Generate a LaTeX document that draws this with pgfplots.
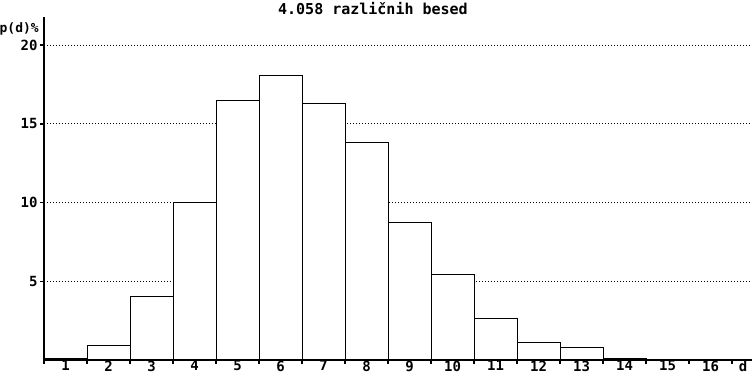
\documentclass[border=0pt]{standalone}
\usepackage{pgfplots}
\pgfplotsset{compat=1.18}
\usepackage{fontspec}
\setmonofont{DejaVu Sans Mono}
\newcommand{\pf}{\ttfamily\bfseries\fontsize{15}{15}\selectfont}
\newcommand{\pft}{\ttfamily\bfseries\fontsize{14}{14}\selectfont}
\newcommand{\pfs}{\ttfamily\bfseries\fontsize{13}{13}\selectfont}
\begin{document}
\begin{tikzpicture}
\begin{axis}[
  name=ax,
  scale only axis,
  width=708pt, height=343pt,
  xmin=0.5, xmax=16.965,
  ymin=0, ymax=21.78,
  clip=false,
  axis x line=bottom, axis y line=left,
  axis line style={-, line width=2pt},
  xtick={1,2,3,4,5,6,7,8,9,10,11,12,13,14,15,16,16.76},
  xticklabels={1,2,3,4,5,6,7,8,9,10,11,12,13,14,15,16,d},
  minor xtick={0.5,1.5,...,16.5},
  major x tick style={draw=none},
  minor x tick style={line width=1.5pt, black},
  minor tick length=4pt,
  ytick={5,10,15,20},
  major tick length=4pt,
  tick align=outside,
  tick style={line width=1.5pt, black},
  ymajorgrids=true,
  major grid style={line width=1pt, dash pattern=on 1pt off 2pt, black},
  /pgf/number format/assume math mode=true,
  tick label style={font=\pft},
  xticklabel style={yshift=4.5pt, inner ysep=1pt},
  yticklabel style={xshift=1pt},
]
\addplot[ybar, bar width=1, fill=white, draw=black, line width=1pt] coordinates {
(1,0.10) (2,0.93) (3,4.02) (4,10.01) (5,16.49) (6,18.07) (7,16.30) (8,13.82)
(9,8.76) (10,5.44) (11,2.65) (12,1.12) (13,0.81) (14,0.08)
};
\node[anchor=east, inner sep=0pt, font=\pfs, xshift=-5pt] at (axis cs:0.5,21.0) {p(d)\%};
\node[inner sep=0pt, font=\pf] at (axis cs:8.15,22.35) {4.058 različnih besed};
\end{axis}
\pgfresetboundingbox
\path[use as bounding box] ([xshift=-44pt,yshift=-17pt]ax.south west) rectangle ([yshift=17pt]ax.north east);
\end{tikzpicture}
\end{document}
